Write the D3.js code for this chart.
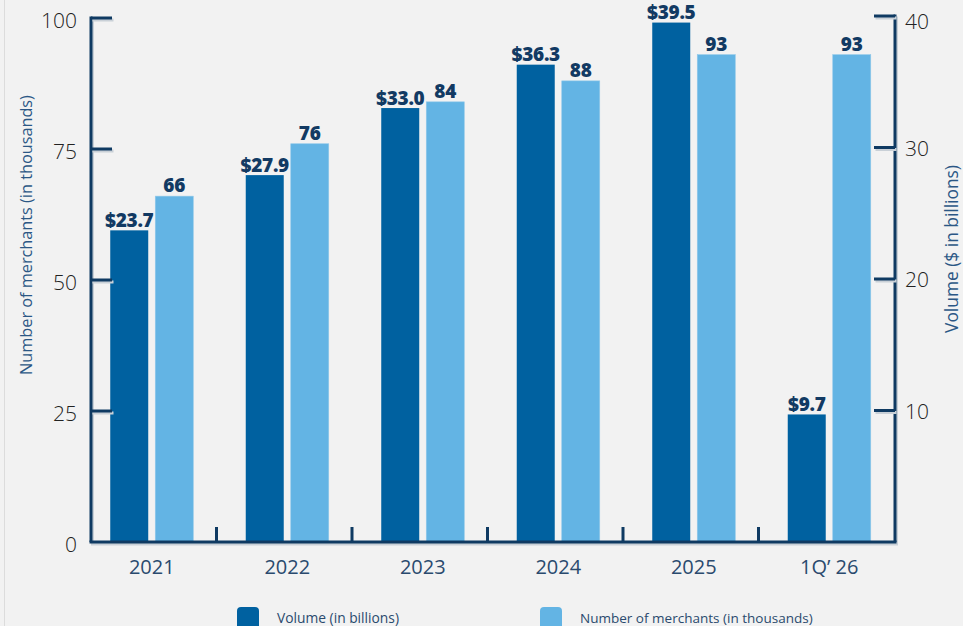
<!DOCTYPE html>
<html><head><meta charset="utf-8">
<script src="https://cdn.jsdelivr.net/npm/d3@7/dist/d3.min.js"></script>
<style>
html,body{margin:0;padding:0;background:#f2f2f2;}
svg{display:block;font-family:"Open Sans",Lato,sans-serif;}
</style></head><body>
<svg id="chart" width="963" height="626"></svg>
<script>
const categories = ["2021","2022","2023","2024","2025","1Q\u2019 26"];
const volume = [23.7, 27.9, 33.0, 36.3, 39.5, 9.7];           // $ billions (right axis)
const merchants = [66, 76, 84, 88, 93, 93];                   // thousands (left axis)
const volumeLabels = ["$23.7","$27.9","$33.0","$36.3","$39.5","$9.7"];
const merchantLabels = ["66","76","84","88","93","93"];
const leftTicks = [0,25,50,75,100];
const rightTicks = [10,20,30,40];
const legendItems = ["Volume (in billions)","Number of merchants (in thousands)"];

const W=963,H=626;
const svg=d3.select("#chart");
const DARK="#0061a0", LIGHT="#63b4e4", AXIS="#0f3a62", LABEL="#123a63";

svg.append("rect").attr("width",W).attr("height",H).attr("fill","#f2f2f2");
svg.append("line").attr("x1",4.5).attr("x2",4.5).attr("y1",0).attr("y2",H).attr("stroke","#dcdcdc");

const x0=d3.scaleBand().domain(categories).range([84,897]);
const x1=d3.scaleBand().domain(["v","m"]).range([0,x0.bandwidth()]).paddingInner(0.156).paddingOuter(0.583);
const yL=d3.scaleLinear().domain([0,100]).range([542,18]);
const yR=d3.scaleLinear().domain([0,40]).range([542,16]);

function fit(sel,target){
  const n=sel.node(); const fs=parseFloat(sel.attr("font-size"));
  const w=n.getComputedTextLength(); if(w>0) sel.attr("font-size",fs*target/w);
}

// bars
const g=svg.append("g");
categories.forEach((c,i)=>{
  const bx=x0(c);
  g.append("rect").attr("x",bx+x1("v")).attr("y",yR(volume[i])).attr("width",x1.bandwidth())
    .attr("height",yR(0)-yR(volume[i])).attr("fill",DARK);
  g.append("rect").attr("x",bx+x1("m")).attr("y",yL(merchants[i])).attr("width",x1.bandwidth())
    .attr("height",yL(0)-yL(merchants[i])).attr("fill",LIGHT).attr("stroke","#8fc8ea").attr("stroke-width",0.6);
  g.append("text").attr("x",bx+x1("v")+x1.bandwidth()/2).attr("y",yR(volume[i])-3.5)
    .attr("text-anchor","middle").attr("font-size",19).attr("font-weight",800).attr("fill",LABEL)
    .attr("letter-spacing",-0.3).text(volumeLabels[i]);
  g.append("text").attr("x",bx+x1("m")+x1.bandwidth()/2).attr("y",yL(merchants[i])-4)
    .attr("text-anchor","middle").attr("font-size",19).attr("font-weight",800).attr("fill",LABEL)
    .text(merchantLabels[i]);
});

// axes (with faint shadow)
const ax=svg.append("g");
function axLine(x1_,y1_,x2_,y2_){
  ax.append("line").attr("x1",x1_+1.5).attr("y1",y1_+2).attr("x2",x2_+1.5).attr("y2",y2_+2)
    .attr("stroke","#c9d0d7").attr("stroke-width",3);
  ax.append("line").attr("x1",x1_).attr("y1",y1_).attr("x2",x2_).attr("y2",y2_)
    .attr("stroke",AXIS).attr("stroke-width",3);
}
const xl=91, xr=895, yb=yL(0);
axLine(xl,yL(100)-1.5,xl,yb);
axLine(xr,yR(40)-1.5,xr,yb);
axLine(xl-1.5,yb,xr+1.5,yb);
leftTicks.filter(t=>t>0).forEach(t=>axLine(xl,yL(t),xl+21,yL(t)));
rightTicks.forEach(t=>axLine(xr-21,yR(t),xr,yR(t)));
categories.slice(1).forEach(c=>{
  const bx=x0(c)-3;
  ax.append("line").attr("x1",bx).attr("x2",bx).attr("y1",yb-15).attr("y2",yb).attr("stroke",AXIS).attr("stroke-width",3);
});

// tick labels
leftTicks.forEach(t=>{
  svg.append("text").attr("x",77).attr("y",yL(t)+3).attr("dy","0.35em").attr("text-anchor","end")
    .attr("font-size",21).attr("font-weight",300).attr("fill","#222").text(t);
});
rightTicks.forEach(t=>{
  svg.append("text").attr("x",905).attr("y",yR(t)+(t===40?6:1)).attr("dy","0.35em")
    .attr("font-size",21).attr("font-weight",300).attr("fill","#222").text(t);
});
categories.forEach(c=>{
  svg.append("text").attr("x",x0(c)+x0.bandwidth()/2).attr("y",574).attr("text-anchor","middle")
    .attr("font-size",20).attr("font-weight",400).attr("fill","#2a4a6e").text(c);
});

// axis titles
fit(svg.append("text").attr("transform","translate(32,235) rotate(-90)").attr("text-anchor","middle")
  .attr("font-size",15).attr("fill","#2b5785").text("Number of merchants (in thousands)"),280);
fit(svg.append("text").attr("transform","translate(958,249) rotate(-90)").attr("text-anchor","middle")
  .attr("font-size",15).attr("fill","#2b5785").text("Volume ($ in billions)"),168);

// legend
const leg=[{x:237,c:DARK,w:122},{x:540,c:LIGHT,w:233}];
leg.forEach((l,i)=>{
  svg.append("rect").attr("x",l.x).attr("y",607).attr("width",22).attr("height",26).attr("rx",4).attr("fill",l.c);
  fit(svg.append("text").attr("x",l.x+40).attr("y",623).attr("font-size",13.5).attr("fill","#2a4a6e").text(legendItems[i]),l.w);
});
</script>
</body></html>
